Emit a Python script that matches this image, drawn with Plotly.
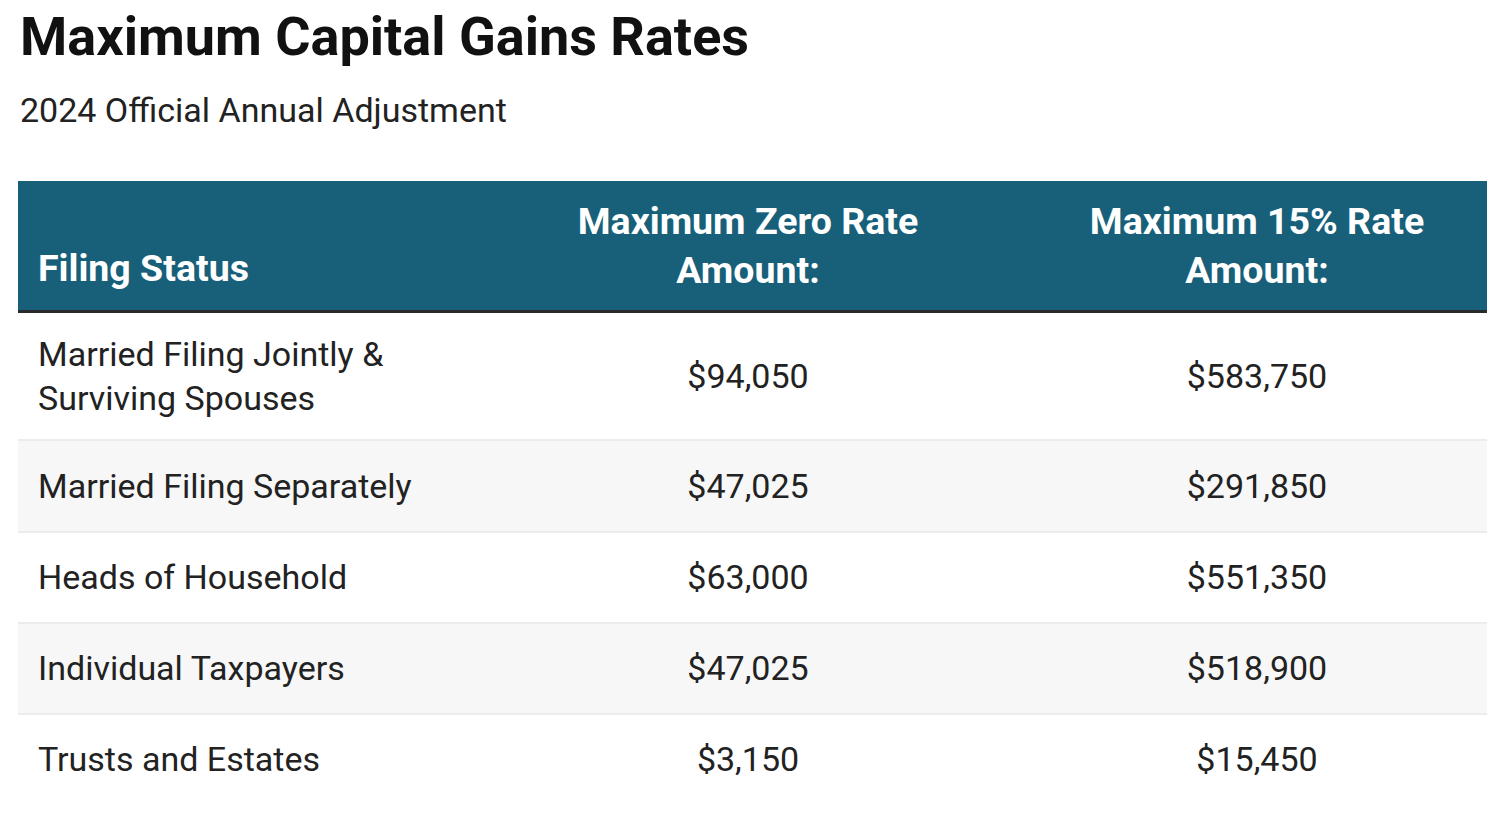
import numpy as np
import plotly.graph_objects as go

# ---- data ----
title_text = "Maximum Capital Gains Rates"
subtitle_text = "2024 Official Annual Adjustment"
header_labels = ["Filing Status", "Maximum Zero Rate<br>Amount:", "Maximum 15% Rate<br>Amount:"]
filing_status = [
    "Married Filing Jointly &<br>Surviving Spouses",
    "Married Filing Separately",
    "Heads of Household",
    "Individual Taxpayers",
    "Trusts and Estates",
]
zero_rate_max = [94050, 47025, 63000, 47025, 3150]
fifteen_rate_max = [583750, 291850, 551350, 518900, 15450]

# ---- layout constants ----
W, H = 1500, 824
FONT = "Roboto"
HEADER_COLOR = "#185f7a"
TEXT_COLOR = "#222222"
BODY_FS = 34
HEAD_FS = 37.5
TABLE_LEFT, TABLE_RIGHT = 18, 1487
COL_WIDTHS = [451, 558, 460]
HEADER_TOP, HEADER_BOTTOM = 181, 310
RULE_H = 3
ROW_HEIGHTS = [127, 92, 91, 91, 91]

col_edges = TABLE_LEFT + np.concatenate([[0], np.cumsum(COL_WIDTHS)])
col1_x = col_edges[0] + 20
col_centers = (col_edges[:-1] + col_edges[1:]) / 2

body_top = HEADER_BOTTOM + RULE_H
row_edges = body_top + np.concatenate([[0], np.cumsum(ROW_HEIGHTS)])
row_mid = (row_edges[:-1] + row_edges[1:]) / 2
row_y = row_mid + 0.1 * BODY_FS

head_mid = (HEADER_TOP + HEADER_BOTTOM) / 2
head_y2 = head_mid + 0.1 * HEAD_FS
head_y1 = head_y2 + 0.6 * HEAD_FS

fmt = lambda v: "${:,}".format(v)

fig = go.Figure()

# header texts
fig.add_trace(go.Scatter(
    x=[col1_x], y=[head_y1], mode="text", text=["<b>" + header_labels[0] + "</b>"],
    textposition="middle right", textfont=dict(family=FONT, size=HEAD_FS, color="white"),
    hoverinfo="skip", showlegend=False))
fig.add_trace(go.Scatter(
    x=list(col_centers[1:]), y=[head_y2, head_y2], mode="text",
    text=["<b>" + t + "</b>" for t in header_labels[1:]],
    textposition="middle center", textfont=dict(family=FONT, size=HEAD_FS, color="white"),
    hoverinfo="skip", showlegend=False))

# body texts
fig.add_trace(go.Scatter(
    x=[col1_x] * len(filing_status), y=list(row_y), mode="text", text=filing_status,
    textposition="middle right", textfont=dict(family=FONT, size=BODY_FS, color=TEXT_COLOR),
    hoverinfo="skip", showlegend=False))
fig.add_trace(go.Scatter(
    x=[col_centers[1]] * len(zero_rate_max), y=list(row_y), mode="text",
    text=[fmt(v) for v in zero_rate_max],
    textposition="middle center", textfont=dict(family=FONT, size=BODY_FS, color=TEXT_COLOR),
    hoverinfo="skip", showlegend=False))
fig.add_trace(go.Scatter(
    x=[col_centers[2]] * len(fifteen_rate_max), y=list(row_y), mode="text",
    text=[fmt(v) for v in fifteen_rate_max],
    textposition="middle center", textfont=dict(family=FONT, size=BODY_FS, color=TEXT_COLOR),
    hoverinfo="skip", showlegend=False))

shapes = []
# header background and rule
shapes.append(dict(type="rect", xref="x", yref="y", x0=TABLE_LEFT, x1=TABLE_RIGHT,
                   y0=HEADER_TOP, y1=HEADER_BOTTOM, fillcolor=HEADER_COLOR,
                   line=dict(width=0), layer="below"))
shapes.append(dict(type="rect", xref="x", yref="y", x0=TABLE_LEFT, x1=TABLE_RIGHT,
                   y0=HEADER_BOTTOM, y1=HEADER_BOTTOM + RULE_H, fillcolor="#2a2a2a",
                   line=dict(width=0), layer="below"))
# row backgrounds
for i in range(len(filing_status)):
    fill = "#ffffff" if i % 2 == 0 else "#f7f7f7"
    shapes.append(dict(type="rect", xref="x", yref="y", x0=TABLE_LEFT, x1=TABLE_RIGHT,
                       y0=row_edges[i], y1=row_edges[i + 1], fillcolor=fill,
                       line=dict(width=0), layer="below"))
# separators
for i in range(1, len(filing_status)):
    shapes.append(dict(type="line", xref="x", yref="y", x0=TABLE_LEFT, x1=TABLE_RIGHT,
                       y0=row_edges[i], y1=row_edges[i], line=dict(color="#ececec", width=2),
                       layer="below"))

annotations = [
    dict(text="<b>" + title_text + "</b>", x=18, y=36, xref="x", yref="y",
         xanchor="left", yanchor="middle", showarrow=False,
         font=dict(family=FONT, size=54, color="#111111")),
    dict(text=subtitle_text, x=18, y=110, xref="x", yref="y",
         xanchor="left", yanchor="middle", showarrow=False,
         font=dict(family=FONT, size=34, color="#222222")),
]

fig.update_layout(
    width=W, height=H, margin=dict(l=0, r=0, t=0, b=0),
    paper_bgcolor="white", plot_bgcolor="white",
    xaxis=dict(range=[0, W], visible=False, fixedrange=True),
    yaxis=dict(range=[H, 0], visible=False, fixedrange=True),
    shapes=shapes, annotations=annotations, showlegend=False,
)

fig.write_html("out.html",
               config={"displayModeBar": False, "staticPlot": True},
               post_script="document.body.style.margin='0';document.body.style.overflow='hidden';")
